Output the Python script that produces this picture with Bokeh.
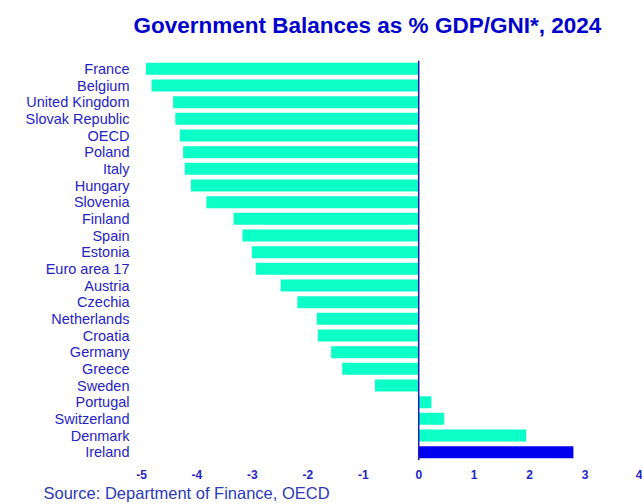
from bokeh.plotting import figure
from bokeh.models import Range1d, FactorRange, Span, Title, ColumnDataSource, FixedTicker
from bokeh.embed import file_html
from bokeh.resources import INLINE

countries = ["France", "Belgium", "United Kingdom", "Slovak Republic", "OECD", "Poland",
             "Italy", "Hungary", "Slovenia", "Finland", "Spain", "Estonia", "Euro area 17",
             "Austria", "Czechia", "Netherlands", "Croatia", "Germany", "Greece", "Sweden",
             "Portugal", "Switzerland", "Denmark", "Ireland"]
balances = [-4.92, -4.82, -4.43, -4.39, -4.31, -4.25, -4.22, -4.11, -3.83, -3.34, -3.18,
            -3.01, -2.94, -2.49, -2.19, -1.84, -1.82, -1.58, -1.38, -0.79,
            0.23, 0.46, 1.94, 2.79]
x_ticks = [-5, -4, -3, -2, -1, 0, 1, 2, 3, 4]
highlight = "Ireland"

FONT = "Liberation Sans"
BLUE_TXT = "#2424C4"

colors = ["#0000EE" if c == highlight else "#0DFFC8" for c in countries]
src = ColumnDataSource(dict(country=countries, value=balances, color=colors))

p = figure(width=642, height=504, output_backend="svg", toolbar_location=None,
           x_range=Range1d(-5, 4), y_range=FactorRange(factors=countries[::-1]),
           min_border_left=141, min_border_right=2, min_border_top=60, min_border_bottom=44)

p.hbar(y="country", left=0, right="value", height=0.72, color="color", source=src, line_color=None)

p.add_layout(Span(location=0, dimension="height", line_color="#1A1AB0", line_width=1.5))

p.outline_line_color = None
p.xgrid.visible = False
p.ygrid.visible = False

p.xaxis.ticker = FixedTicker(ticks=x_ticks)
p.xaxis.major_label_overrides = {t: str(t) for t in x_ticks}
p.xaxis.axis_line_color = None
p.xaxis.major_tick_line_color = None
p.xaxis.minor_tick_line_color = None
p.xaxis.major_tick_out = 0
p.xaxis.major_tick_in = 0
p.xaxis.major_label_standoff = 9
p.xaxis.major_label_text_font = FONT
p.xaxis.major_label_text_font_size = "12px"
p.xaxis.major_label_text_font_style = "bold"
p.xaxis.major_label_text_color = BLUE_TXT

p.yaxis.axis_line_color = None
p.yaxis.major_tick_line_color = None
p.yaxis.major_tick_out = 0
p.yaxis.major_tick_in = 0
p.yaxis.major_label_standoff = 12
p.yaxis.major_label_text_font = FONT
p.yaxis.major_label_text_font_size = "14.5px"
p.yaxis.major_label_text_color = BLUE_TXT

# main title (outermost)
p.title.text = "Government Balances as % GDP/GNI*, 2024"
p.title.align = "left"
p.title.offset = -8
p.title.text_font = FONT
p.title.text_font_size = "22.5px"
p.title.text_font_style = "bold"
p.title.text_color = "#0000CC"

# spacer between title and frame
p.add_layout(Title(text=" ", text_font_size="6px"), "above")

p.add_layout(Title(text="Source: Department of Finance, OECD", align="left", offset=-98,
                   standoff=0, text_font=FONT, text_font_size="16.5px",
                   text_font_style="normal", text_color="#2A3AB8"), "below")

open("out.html", "w").write(file_html(p, INLINE))
